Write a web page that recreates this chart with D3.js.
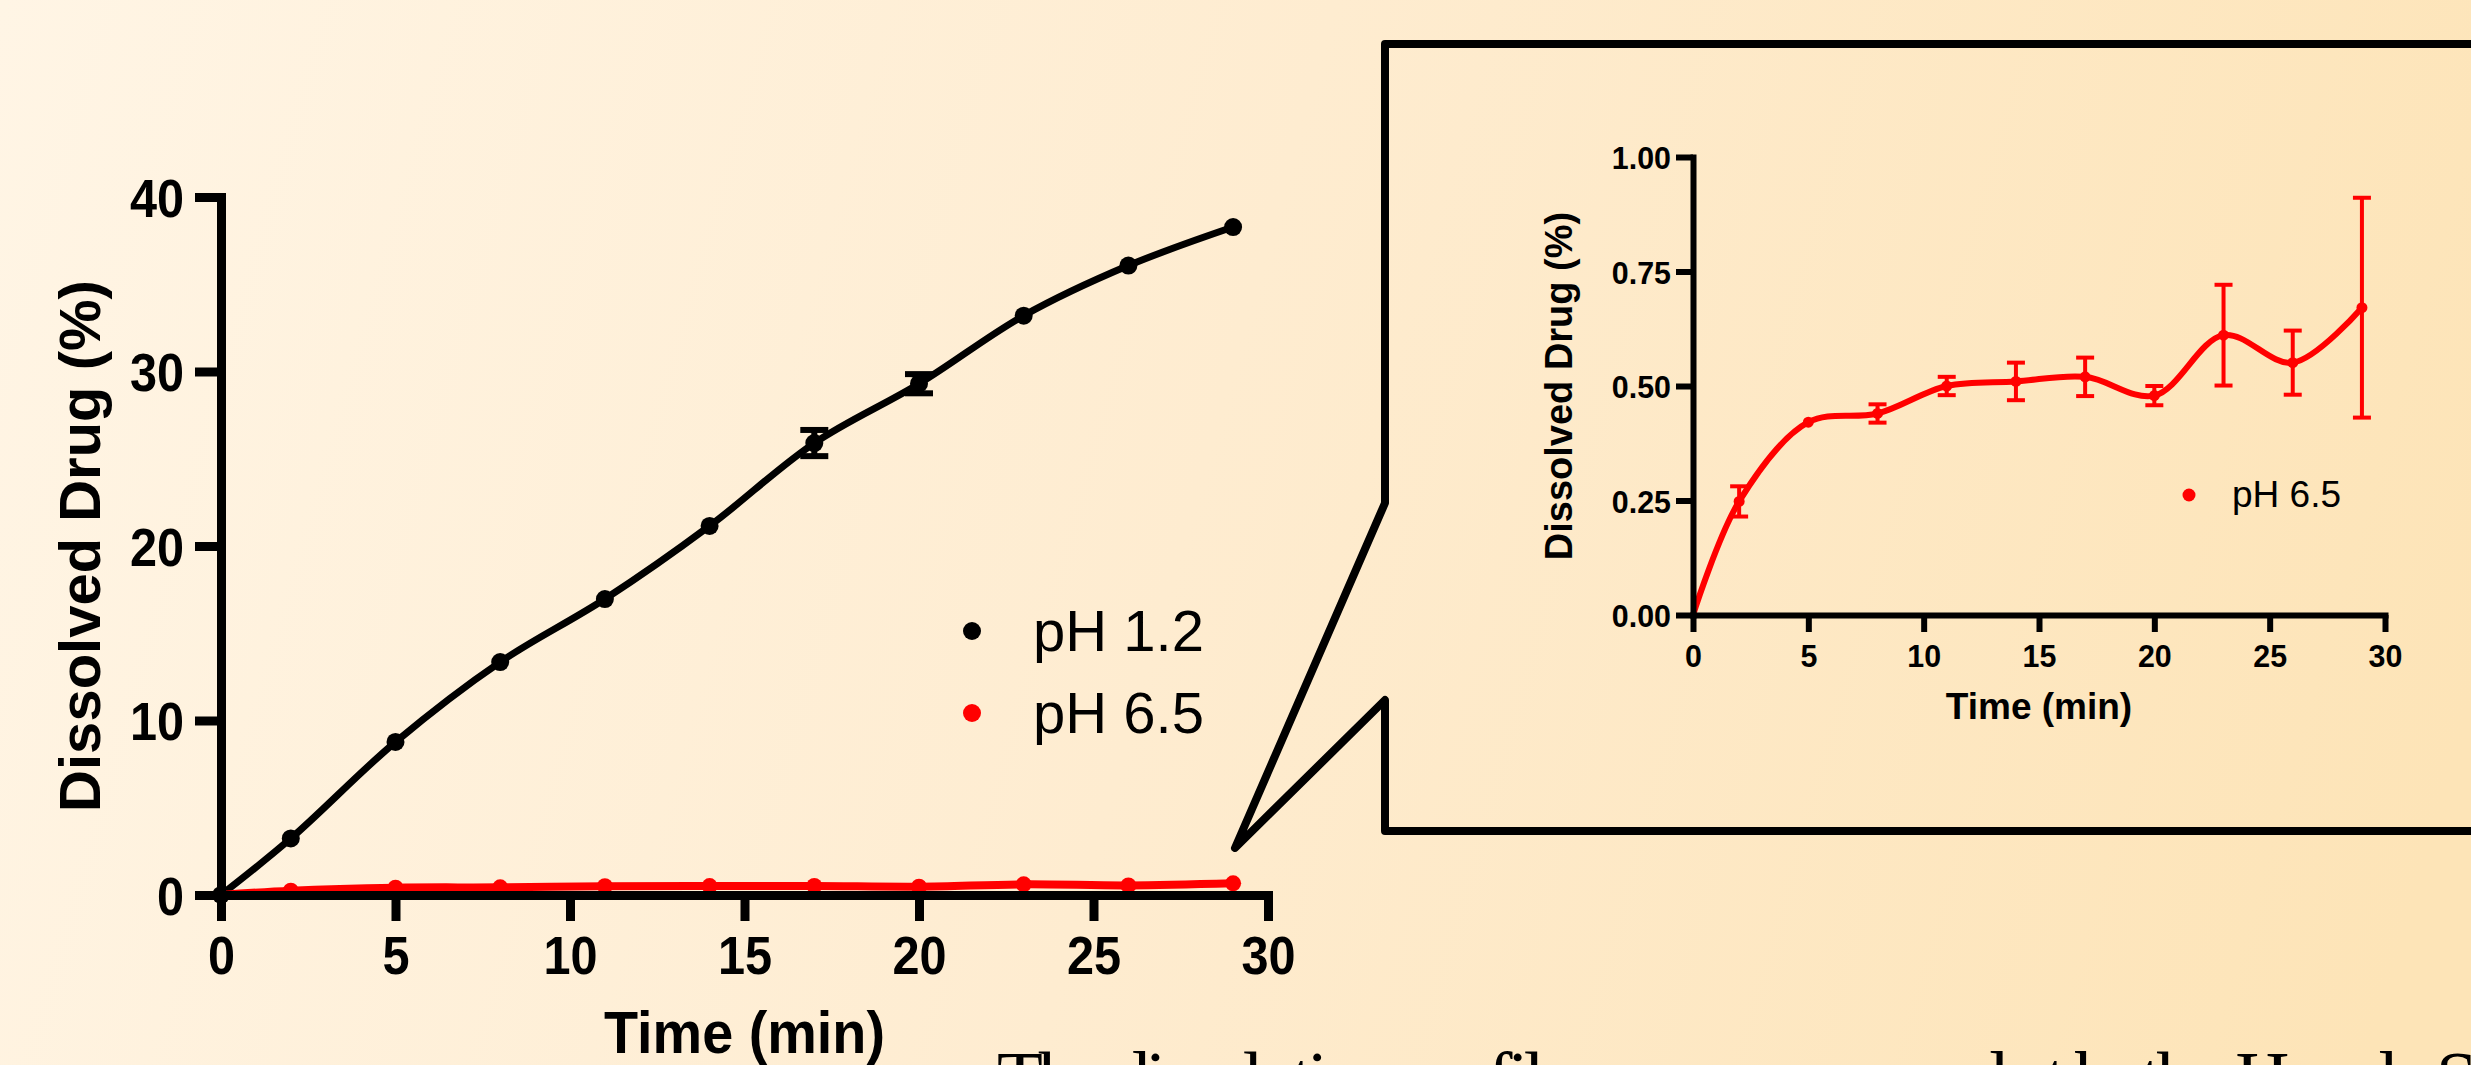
<!DOCTYPE html>
<html>
<head>
<meta charset="utf-8">
<script src="https://cdn.jsdelivr.net/npm/d3@7"></script>
<style>
html,body{margin:0;padding:0;overflow:hidden;background:#fef2dc;}
svg{display:block;}
</style>
</head>
<body>
<svg id="chart" width="2471" height="1065"></svg>
<script>
// ---------- data ----------
const timePoints = [0, 2, 5, 8, 11, 14, 17, 20, 23, 26, 29];
const ph12Values = [0, 3.24, 8.77, 13.35, 16.96, 21.15, 25.9, 29.3, 33.2, 36.07, 38.28];
const ph12Errors = [0, 0, 0, 0, 0, 0, 0.75, 0.55, 0, 0, 0];
const ph65Values = [0, 0.248, 0.421, 0.44, 0.50, 0.51, 0.52, 0.479, 0.611, 0.551, 0.671];
const ph65Errors = [0, 0.033, 0.008, 0.02, 0.02, 0.041, 0.042, 0.021, 0.11, 0.07, 0.24];
const seriesNames = ["pH 1.2", "pH 6.5"];
const mainXTicks = [0, 5, 10, 15, 20, 25, 30];
const mainYTicks = [0, 10, 20, 30, 40];
const insetXTicks = [0, 5, 10, 15, 20, 25, 30];
const insetYTicks = [0, 0.25, 0.5, 0.75, 1.0];
const yTitle = "Dissolved Drug (%)";
const xTitle = "Time (min)";
const captionText = "The dissolution profiles were compared at both pH and";
const captionEnd = "S";

const svg = d3.select("#chart");
const W = 2471, H = 1065;
const SANS = "'Liberation Sans', Arial, Helvetica, sans-serif";

// ---------- background ----------
const defs = svg.append("defs");
const grad = defs.append("linearGradient").attr("id", "bg")
  .attr("gradientUnits", "userSpaceOnUse")
  .attr("x1", 0).attr("y1", 0).attr("x2", W).attr("y2", 700);
grad.append("stop").attr("offset", "0%").attr("stop-color", "#fff5e5");
grad.append("stop").attr("offset", "50%").attr("stop-color", "#feecd0");
grad.append("stop").attr("offset", "100%").attr("stop-color", "#fde4b7");
svg.append("rect").attr("width", W).attr("height", H).attr("fill", "url(#bg)");

const data = timePoints.map((t, i) => ({
  t, a: ph12Values[i], ae: ph12Errors[i], b: ph65Values[i], be: ph65Errors[i]
}));

function styleAxis(g, sw, size, sx, isLeft, offset) {
  g.attr("font-family", SANS).attr("font-size", size).attr("font-weight", "bold");
  g.select(".domain").attr("stroke", "#000").attr("stroke-width", sw).attr("stroke-linecap", "square");
  g.selectAll(".tick line").attr("stroke", "#000").attr("stroke-width", sw);
  g.selectAll(".tick text").attr("fill", "#000").each(function () {
    const t = d3.select(this);
    if (isLeft) {
      t.attr("x", -offset / sx).attr("dy", "0.36em");
    } else {
      t.attr("y", offset).attr("dy", "0");
    }
    t.attr("transform", `scale(${sx},1)`);
  });
}

// ---------- main chart ----------
const mx = d3.scaleLinear().domain([0, 30]).range([221, 1268]);
const my = d3.scaleLinear().domain([0, 40]).range([895, 197]);

const mainLine = (key) => d3.line()
  .x(d => mx(d.t)).y(d => my(d[key]))
  .curve(d3.curveCatmullRom.alpha(0.5));

const gMain = svg.append("g");

// pH 1.2 (black)
gMain.append("path").datum(data).attr("d", mainLine("a"))
  .attr("fill", "none").attr("stroke", "#000").attr("stroke-width", 7).attr("stroke-linejoin", "round");
const ebA = gMain.append("g").attr("stroke", "#000").attr("stroke-width", 6);
data.filter(d => d.ae > 0).forEach(d => {
  const x = mx(d.t);
  ebA.append("line").attr("x1", x).attr("x2", x).attr("y1", my(d.a - d.ae)).attr("y2", my(d.a + d.ae));
  ebA.append("line").attr("x1", x - 14).attr("x2", x + 14).attr("y1", my(d.a - d.ae)).attr("y2", my(d.a - d.ae));
  ebA.append("line").attr("x1", x - 14).attr("x2", x + 14).attr("y1", my(d.a + d.ae)).attr("y2", my(d.a + d.ae));
});
gMain.append("g").selectAll("circle").data(data).join("circle")
  .attr("cx", d => mx(d.t)).attr("cy", d => my(d.a)).attr("r", 9).attr("fill", "#000");

// pH 6.5 (red)
gMain.append("path").datum(data).attr("d", mainLine("b"))
  .attr("fill", "none").attr("stroke", "#ff0000").attr("stroke-width", 8).attr("stroke-linejoin", "round");
gMain.append("g").selectAll("circle").data(data.slice(1)).join("circle")
  .attr("cx", d => mx(d.t)).attr("cy", d => my(d.b)).attr("r", 8).attr("fill", "#ff0000");

// axes
const gmx = svg.append("g").attr("transform", `translate(0,${my(0)})`)
  .call(d3.axisBottom(mx).tickValues(mainXTicks).tickSize(26).tickSizeOuter(0).tickFormat(d3.format("d")));
styleAxis(gmx, 9, 54, 0.9, false, 79);
const gmy = svg.append("g").attr("transform", `translate(${mx(0)},0)`)
  .call(d3.axisLeft(my).tickValues(mainYTicks).tickSize(26).tickSizeOuter(0).tickFormat(d3.format("d")));
styleAxis(gmy, 9, 54, 0.9, true, 37);

// titles
svg.append("text").attr("transform", `translate(100,${(my(0) + my(40)) / 2}) rotate(-90)`)
  .attr("text-anchor", "middle").attr("font-family", SANS).attr("font-weight", "bold")
  .attr("font-size", 58).text(yTitle);
svg.append("text").attr("transform", `translate(${(mx(0) + mx(30)) / 2},1053) scale(0.93,1)`)
  .attr("text-anchor", "middle").attr("font-family", SANS).attr("font-weight", "bold")
  .attr("font-size", 60).text(xTitle);

// legend
const legMain = svg.append("g");
[["#000", 651], ["#ff0000", 733]].forEach((c, i) => {
  legMain.append("circle").attr("cx", 972).attr("cy", c[1] - 20).attr("r", 9).attr("fill", c[0]);
  legMain.append("text").attr("x", 1033).attr("y", c[1]).attr("font-family", SANS)
    .attr("font-size", 58).attr("fill", "#000").text(seriesNames[i]);
});

// ---------- callout box ----------
const boxPts = [[2490, 44], [1385, 44], [1385, 503], [1235, 848], [1385, 700], [1385, 831], [2490, 831]];
svg.append("path").attr("d", d3.line()(boxPts)).attr("fill", "none")
  .attr("stroke", "#000").attr("stroke-width", 8).attr("stroke-linejoin", "round").attr("stroke-linecap", "round");

// ---------- inset chart ----------
const ix = d3.scaleLinear().domain([0, 30]).range([1693, 2385]);
const iy = d3.scaleLinear().domain([0, 1]).range([615, 157]);
const gIn = svg.append("g");

gIn.append("path").datum(data).attr("d", d3.line().x(d => ix(d.t)).y(d => iy(d.b)).curve(d3.curveCatmullRom.alpha(0.5)))
  .attr("fill", "none").attr("stroke", "#ff0000").attr("stroke-width", 6).attr("stroke-linejoin", "round");
const ebB = gIn.append("g").attr("stroke", "#ff0000").attr("stroke-width", 4);
data.filter(d => d.be > 0.01).forEach(d => {
  const x = ix(d.t);
  ebB.append("line").attr("x1", x).attr("x2", x).attr("y1", iy(d.b - d.be)).attr("y2", iy(d.b + d.be));
  ebB.append("line").attr("x1", x - 9).attr("x2", x + 9).attr("y1", iy(d.b - d.be)).attr("y2", iy(d.b - d.be));
  ebB.append("line").attr("x1", x - 9).attr("x2", x + 9).attr("y1", iy(d.b + d.be)).attr("y2", iy(d.b + d.be));
});
gIn.append("g").selectAll("circle").data(data.slice(1)).join("circle")
  .attr("cx", d => ix(d.t)).attr("cy", d => iy(d.b)).attr("r", 5.5).attr("fill", "#ff0000");

const gix = svg.append("g").attr("transform", `translate(0,${iy(0)})`)
  .call(d3.axisBottom(ix).tickValues(insetXTicks).tickSize(17).tickSizeOuter(0).tickFormat(d3.format("d")));
styleAxis(gix, 6, 32, 0.95, false, 52);
const giy = svg.append("g").attr("transform", `translate(${ix(0)},0)`)
  .call(d3.axisLeft(iy).tickValues(insetYTicks).tickSize(17).tickSizeOuter(0).tickFormat(d3.format(".2f")));
styleAxis(giy, 6, 32, 0.95, true, 22);

svg.append("text").attr("transform", `translate(1572,${(iy(0) + iy(1)) / 2}) rotate(-90)`)
  .attr("text-anchor", "middle").attr("font-family", SANS).attr("font-weight", "bold")
  .attr("font-size", 38).text(yTitle);
svg.append("text").attr("transform", `translate(${(ix(0) + ix(30)) / 2},719)`)
  .attr("text-anchor", "middle").attr("font-family", SANS).attr("font-weight", "bold")
  .attr("font-size", 37).text(xTitle);

gIn.append("circle").attr("cx", 2189).attr("cy", 495).attr("r", 6.5).attr("fill", "#ff0000");
gIn.append("text").attr("x", 2232).attr("y", 507).attr("font-family", SANS)
  .attr("font-size", 37).attr("fill", "#000").text(seriesNames[1]);

// ---------- caption (cut off at bottom, as in the reference) ----------
svg.append("text").attr("x", 997).attr("y", 1103).attr("font-family", "'Liberation Serif', 'Times New Roman', serif")
  .attr("font-size", 75).attr("textLength", 1400).attr("lengthAdjust", "spacing").text(captionText);
svg.append("text").attr("x", 2436).attr("y", 1103).attr("font-family", "'Liberation Serif', 'Times New Roman', serif")
  .attr("font-size", 75).text(captionEnd);
</script>
</body>
</html>
